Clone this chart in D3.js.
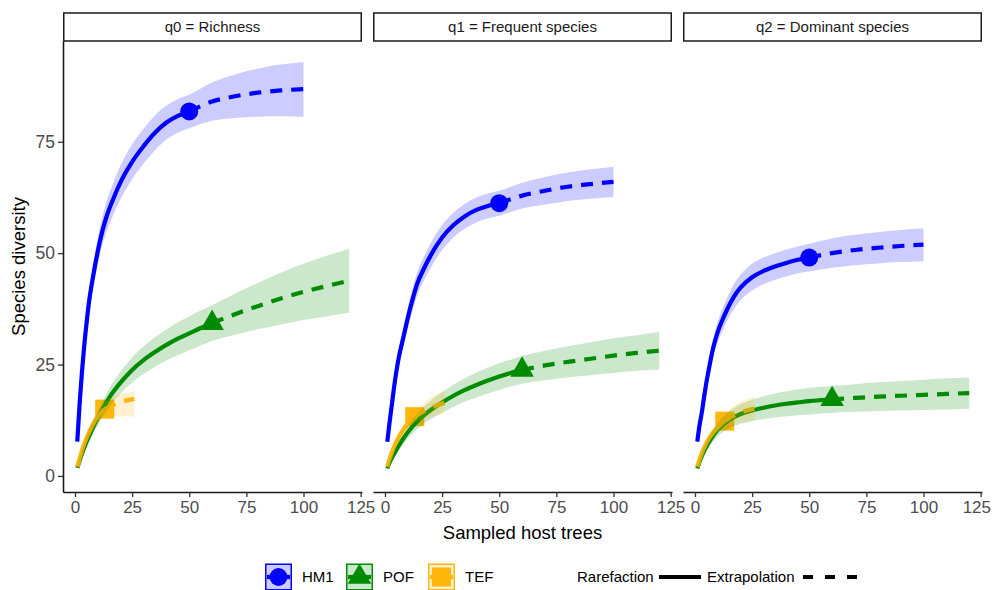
<!DOCTYPE html>
<html><head><meta charset="utf-8">
<script src="https://cdn.jsdelivr.net/npm/d3@7/dist/d3.min.js"></script>
<style>body{margin:0;background:#fff} svg{font-family:"Liberation Sans", Arial, sans-serif; display:block}</style>
</head><body><svg id="c" width="992" height="590"></svg>
<script>
// ---------- DATA ----------
const facets = ["q0 = Richness", "q1 = Frequent species", "q2 = Dominant species"];
const assemblages = ["HM1", "POF", "TEF"];
const methods = ["Rarefaction", "Extrapolation"];
const observedN = [50, 60, 13];           // sampled host trees per assemblage
const xTicks = [0, 25, 50, 75, 100, 125];
const yTicks = [0, 25, 50, 75];
const xLabel = "Sampled host trees";
const yLabel = "Species diversity";

// rows: [sampled host trees, estimate, lower CI, upper CI]
const hm1_q0 = [[1,7.7,7.1,8.3],[2,16,14.9,17.1],[3,23,21.5,24.5],[4,29,27.2,30.8],[5,34,31.9,36.1],[6,38.5,36.2,40.8],[8,45,42.3,47.7],[10,50.5,47.5,53.5],[12,55,51.8,58.2],[14,58.5,55.1,61.9],[17,62.5,58.9,66.1],[20,66,62.2,69.8],[25,70.5,66.6,74.4],[30,74,70.1,77.9],[35,77,73.1,80.9],[40,79.3,75.5,83.1],[45,80.8,77.0,84.6],[50,81.8,78.0,85.6],[60,84.0,79.7,88.3],[70,85.2,80.3,90.1],[80,86.0,80.6,91.4],[90,86.5,80.7,92.3],[100,86.8,80.6,92.9]];
const pof_q0 = [[1,1.8,1.5,2.1],[2,3.4,2.9,3.9],[3,4.9,4.2,5.6],[5,7.6,6.6,8.6],[7,9.9,8.6,11.2],[10,13.0,11.4,14.6],[15,17.6,15.5,19.7],[20,21.0,18.5,23.5],[25,23.8,21.0,26.6],[30,26.0,22.9,29.1],[35,27.8,24.5,31.1],[40,29.4,25.9,32.9],[45,30.8,27.1,34.5],[50,32.0,28.2,35.8],[55,33.2,29.3,37.1],[60,34.3,30.3,38.3],[70,36.3,31.7,40.9],[80,38.1,32.9,43.3],[90,39.8,34.0,45.6],[100,41.3,35.0,47.6],[110,42.6,35.8,49.4],[120,43.8,36.6,51.0]];
const tef_q0 = [[1,2.1,1.8,2.4],[2,3.9,3.4,4.4],[3,5.6,4.9,6.3],[4,7.1,6.2,8.0],[5,8.4,7.4,9.4],[6,9.6,8.5,10.7],[7,10.7,9.5,11.9],[8,11.7,10.4,13.0],[9,12.6,11.2,14.0],[10,13.3,11.8,14.8],[11,13.9,12.4,15.4],[12,14.5,12.9,16.1],[13,15.0,13.4,16.6],[16,15.8,13.6,17.6],[19,16.4,13.5,18.2],[22,16.9,13.4,18.6],[26,17.3,13.3,19.0]];

const hm1_q1 = [[1,7.7,7.2,8.2],[2,12,11.2,12.8],[3,16,14.9,17.1],[4,20,18.7,21.3],[5,23.5,22.0,25.0],[6,26.5,24.8,28.2],[8,31,29.0,33.0],[10,35.5,33.2,37.8],[12,39.5,37.0,42.0],[14,43,40.4,45.6],[17,46.5,43.8,49.2],[20,49.5,46.7,52.3],[25,53.5,50.7,56.3],[30,56.3,53.5,59.1],[35,58.3,55.5,61.1],[40,59.7,56.9,62.5],[45,60.6,57.8,63.4],[50,61.2,58.4,64.0],[60,62.9,60.0,65.8],[70,64.0,60.9,67.1],[80,64.9,61.7,68.1],[90,65.5,62.2,68.8],[100,66.0,62.6,69.4]];
const pof_q1 = [[1,1.7,1.4,2.0],[2,3.0,2.5,3.5],[3,4.0,3.4,4.6],[5,5.9,5.0,6.8],[7,7.6,6.5,8.7],[10,9.8,8.4,11.2],[15,12.7,10.9,14.5],[20,14.8,12.7,16.9],[25,16.5,14.2,18.8],[30,18.0,15.5,20.5],[35,19.3,16.7,21.9],[40,20.4,17.6,23.2],[45,21.4,18.5,24.3],[50,22.3,19.3,25.3],[55,23.1,20.1,26.1],[60,23.8,20.7,26.9],[70,24.8,21.5,28.1],[80,25.6,22.1,29.1],[90,26.3,22.6,30.0],[100,27.0,23.1,30.9],[110,27.6,23.6,31.6],[120,28.1,23.9,32.3]];
const tef_q1 = [[1,2.1,1.8,2.4],[2,3.8,3.4,4.2],[3,5.3,4.7,5.9],[4,6.6,5.9,7.3],[5,7.7,6.9,8.5],[6,8.7,7.8,9.6],[7,9.6,8.6,10.6],[8,10.4,9.3,11.5],[9,11.1,9.9,12.3],[10,11.7,10.5,12.9],[11,12.3,11.0,13.6],[12,12.8,11.5,14.1],[13,13.3,12.0,14.7],[16,14.2,12.5,16.0],[19,15.0,13.0,17.2],[22,15.7,13.5,18.2],[26,16.4,14.0,19.2]];

const hm1_q2 = [[1,7.7,7.2,8.2],[2,11.4,10.6,12.2],[3,14.3,13.2,15.4],[4,17.8,16.5,19.1],[5,21.0,19.5,22.5],[6,23.8,22.1,25.5],[8,28.8,26.8,30.8],[10,32.4,30.1,34.7],[12,35.0,32.5,37.5],[14,37.3,34.7,39.9],[17,40.2,37.4,43.0],[20,42.3,39.4,45.2],[25,44.6,41.6,47.6],[30,46.0,43.0,49.0],[35,47.0,44.0,50.0],[40,47.8,44.8,50.8],[45,48.5,45.5,51.5],[50,49.0,45.9,52.1],[60,50.0,46.7,53.3],[70,50.7,47.3,54.1],[80,51.2,47.7,54.7],[90,51.6,48.0,55.2],[100,51.9,48.2,55.6]];
const pof_q2 = [[1,1.7,1.4,2.0],[2,3.2,2.7,3.7],[3,4.5,3.8,5.2],[5,6.6,5.6,7.6],[7,8.3,7.1,9.5],[10,10.4,8.9,11.9],[15,12.6,10.7,14.5],[20,13.9,11.7,16.1],[25,14.7,12.3,17.1],[30,15.3,12.7,17.9],[35,15.8,13.1,18.5],[40,16.2,13.4,19.0],[45,16.5,13.6,19.4],[50,16.8,13.8,19.8],[55,17.0,14.0,20.0],[60,17.2,14.2,20.2],[70,17.5,14.4,20.6],[80,17.8,14.6,21.0],[90,18.0,14.7,21.3],[100,18.2,14.8,21.6],[110,18.4,14.9,21.9],[120,18.6,15.1,22.1]];
const tef_q2 = [[1,2.1,1.8,2.4],[2,3.7,3.3,4.1],[3,5.1,4.5,5.7],[4,6.3,5.6,7.0],[5,7.4,6.6,8.2],[6,8.3,7.4,9.2],[7,9.1,8.1,10.1],[8,9.8,8.7,10.9],[9,10.4,9.2,11.6],[10,10.9,9.7,12.1],[11,11.4,10.1,12.7],[12,11.9,10.6,13.2],[13,12.3,11.0,13.6],[16,13.3,11.6,15.3],[19,14.0,12.0,16.3],[22,14.6,12.3,17.1],[26,15.1,12.6,17.8]];

const panelsData = [[hm1_q0, pof_q0, tef_q0], [hm1_q1, pof_q1, tef_q1], [hm1_q2, pof_q2, tef_q2]];

// ---------- STYLE / LAYOUT ----------
const colors = ["#0000FF", "#008B00", "#FFB60D"];
const symbols = [d3.symbolCircle, d3.symbolTriangle, d3.symbolSquare];
const symSize = [254, 240, 361];
const panelX0 = [63, 373, 683], panelW = 299, plotTop = 41, plotBottom = 492;
const stripTop = 13, stripH = 28;
const lineW = 4.2, dash = "12,9";
const tickColor = "#4D4D4D";
const fontStack = "Liberation Sans, Arial, sans-serif";
const W = 992;

const svg = d3.select("#c");
const x = d3.scaleLinear().domain([-5.25, 125.6]).range([0, panelW]);
const y = d3.scaleLinear().domain([-3.6, 97.6]).range([plotBottom, plotTop]);

const line = d3.line().x(d => x(d[0])).y(d => y(d[1])).curve(d3.curveMonotoneX);
const area = d3.area().x(d => x(d[0])).y0(d => y(d[2])).y1(d => y(d[3])).curve(d3.curveMonotoneX);

panelsData.forEach((series, p) => {
  const g = svg.append("g").attr("transform", `translate(${panelX0[p]},0)`);
  // strip
  g.append("rect").attr("x", 0.75).attr("y", stripTop).attr("width", panelW - 1.5).attr("height", stripH)
    .attr("fill", "#fff").attr("stroke", "#1a1a1a").attr("stroke-width", 1.5);
  g.append("text").attr("x", panelW / 2).attr("y", stripTop + stripH / 2).attr("dy", "0.35em")
    .attr("text-anchor", "middle").attr("font-size", 15).attr("fill", "#1a1a1a").text(facets[p]);

  const plot = g.append("g");
  // observed points first
  series.forEach((rows, i) => {
    const obs = rows.find(r => r[0] === observedN[i]);
    plot.append("path").attr("d", d3.symbol().type(symbols[i]).size(symSize[i])())
      .attr("transform", `translate(${x(obs[0])},${y(obs[1])})`).attr("fill", colors[i]);
  });
  // lines
  series.forEach((rows, i) => {
    const n = observedN[i];
    plot.append("path").attr("d", line(rows.filter(r => r[0] <= n)))
      .attr("fill", "none").attr("stroke", colors[i]).attr("stroke-width", lineW);
    plot.append("path").attr("d", line(rows.filter(r => r[0] >= n)))
      .attr("fill", "none").attr("stroke", colors[i]).attr("stroke-width", lineW)
      .attr("stroke-dasharray", dash);
  });
  // ribbons
  series.forEach((rows, i) => {
    plot.append("path").attr("d", area(rows)).attr("fill", colors[i]).attr("fill-opacity", 0.2);
  });

  // x axis
  const xa = g.append("g").attr("transform", `translate(0,${plotBottom})`)
    .call(d3.axisBottom(x).tickValues(xTicks).tickSize(5).tickPadding(4).tickSizeOuter(0));
  xa.select(".domain").attr("stroke", "#1a1a1a").attr("stroke-width", 1.6);
  xa.selectAll(".tick line").attr("stroke", "#333").attr("stroke-width", 1.3);
  xa.selectAll(".tick text").attr("font-size", 17).attr("fill", tickColor).attr("font-family", fontStack)
    .each(function () {
      // keep labels inside the page
      const bb = this.getBBox();
      const right = panelX0[p] + x(+this.textContent) + bb.width / 2;
      if (right > W - 1.5) d3.select(this).attr("dx", (W - 1.5 - right).toFixed(1));
    });

  if (p === 0) {
    const ya = g.append("g").call(d3.axisLeft(y).tickValues(yTicks).tickSize(5).tickPadding(3).tickSizeOuter(0));
    ya.select(".domain").attr("stroke", "#1a1a1a").attr("stroke-width", 1.6);
    ya.selectAll(".tick line").attr("stroke", "#333").attr("stroke-width", 1.3);
    ya.selectAll(".tick text").attr("font-size", 17.5).attr("fill", tickColor).attr("font-family", fontStack);
  }
});

// axis titles
svg.append("text").attr("x", (panelX0[1] + panelW / 2)).attr("y", 539).attr("text-anchor", "middle")
  .attr("font-size", 18.5).attr("fill", "#000").text(xLabel);
svg.append("text").attr("transform", `translate(25,${(plotTop + plotBottom) / 2}) rotate(-90)`).attr("text-anchor", "middle")
  .attr("font-size", 18.5).attr("fill", "#000").text(yLabel);

// legend: assemblages
const legY = 577, keyS = 27;
const keyX = [265, 346, 428];
assemblages.forEach((a, i) => {
  const lg = svg.append("g").attr("transform", `translate(${keyX[i]},${legY - keyS / 2})`);
  lg.append("rect").attr("x", 0.75).attr("y", 0.75).attr("width", keyS - 1.5).attr("height", keyS - 1.5)
    .attr("fill", colors[i]).attr("fill-opacity", 0.2).attr("stroke", colors[i]).attr("stroke-width", 1.5);
  lg.append("line").attr("x1", 2).attr("x2", keyS - 2).attr("y1", keyS / 2).attr("y2", keyS / 2)
    .attr("stroke", colors[i]).attr("stroke-width", lineW);
  lg.append("path").attr("d", d3.symbol().type(symbols[i]).size(symSize[i])())
    .attr("transform", `translate(${keyS / 2},${keyS / 2})`).attr("fill", colors[i]);
  svg.append("text").attr("x", keyX[i] + keyS + 10).attr("y", legY).attr("dy", "0.35em")
    .attr("font-size", 15).attr("fill", "#000").text(a);
});
// legend: methods (label followed by its key)
const methX = [577, 707];
const methKey = [[659, 701], [803, 857]];
methods.forEach((m, j) => {
  svg.append("text").attr("x", methX[j]).attr("y", legY).attr("dy", "0.35em")
    .attr("font-size", 15).attr("fill", "#000").text(m);
  svg.append("line").attr("x1", methKey[j][0]).attr("x2", methKey[j][1])
    .attr("y1", legY).attr("y2", legY).attr("stroke", "#000").attr("stroke-width", lineW)
    .attr("stroke-dasharray", j === 0 ? null : "10,12");
});
</script></body></html>
